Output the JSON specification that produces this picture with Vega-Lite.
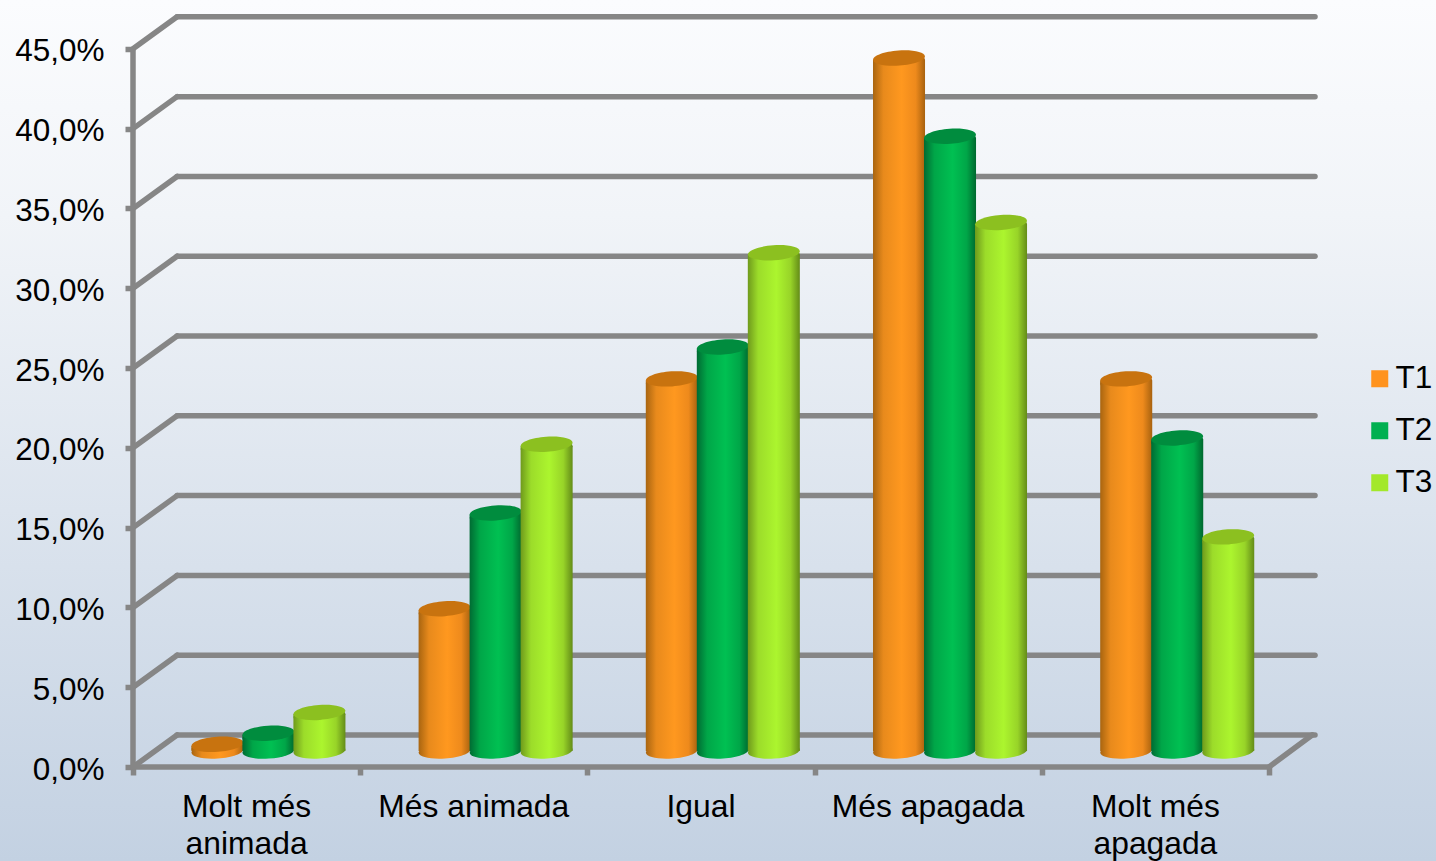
{"$schema":"https://vega.github.io/schema/vega-lite/v6.json","width":1436,"height":861,"padding":0,"autosize":{"type":"none"},"background":"#E4E9F1","view":{"stroke":null,"fill":{"gradient":"linear","x1":0,"y1":0,"x2":0,"y2":1,"stops":[{"offset":0,"color":"#FBFCFE"},{"offset":0.25,"color":"#F1F4F8"},{"offset":1,"color":"#C3D1E2"}]}},
"datasets":{"levels":[{"level":0},{"level":5},{"level":10},{"level":15},{"level":20},{"level":25},{"level":30},{"level":35},{"level":40},{"level":45}],
"cats":[{"label":"Molt més\nanimada","pos":0},{"label":"Més animada","pos":1},{"label":"Igual","pos":2},{"label":"Més apagada","pos":3},{"label":"Molt més\napagada","pos":4}],
"bars":[
{"category":"Molt més animada","pos":0,"series":"T1","value":0.5},{"category":"Més animada","pos":1,"series":"T1","value":9.0},{"category":"Igual","pos":2,"series":"T1","value":23.4},{"category":"Més apagada","pos":3,"series":"T1","value":43.5},{"category":"Molt més apagada","pos":4,"series":"T1","value":23.4},
{"category":"Molt més animada","pos":0,"series":"T2","value":1.2},{"category":"Més animada","pos":1,"series":"T2","value":15.0},{"category":"Igual","pos":2,"series":"T2","value":25.4},{"category":"Més apagada","pos":3,"series":"T2","value":38.6},{"category":"Molt més apagada","pos":4,"series":"T2","value":19.7},
{"category":"Molt més animada","pos":0,"series":"T3","value":2.5},{"category":"Més animada","pos":1,"series":"T3","value":19.3},{"category":"Igual","pos":2,"series":"T3","value":31.3},{"category":"Més apagada","pos":3,"series":"T3","value":33.2},{"category":"Molt més apagada","pos":4,"series":"T3","value":13.5}]},
"data":{"name":"bars"},
"transform":[{"calculate":"indexof(['T1','T2','T3'],datum.series)","as":"si"},{"calculate":"datum.pos+0.257+datum.si*0.2245","as":"x0"},{"calculate":"datum.x0+0.229","as":"x1"},{"calculate":"datum.x0+0.1145","as":"xc"},{"calculate":"datum.value+0.92","as":"top"},{"calculate":"datum.value+0.82","as":"bodyTop"},{"calculate":"datum.value+0.72","as":"under"},{"calculate":"1","as":"base"}],
"encoding":{},
"layer":[
{"data":{"name":"levels"},"transform":[{"calculate":"datum.level+2.005","as":"back"}],"mark":{"type":"rule","color":"#868686","strokeWidth":5.5,"strokeCap":"round"},"encoding":{"x":{"datum":0,"type":"quantitative","scale":{"domain":[-0.5854,5.735],"nice":false,"zero":false},"axis":{"values":[0,1,2,3,4,5],"orient":"bottom","offset":-94,"domain":false,"grid":false,"labels":false,"title":null,"tickSize":8,"tickWidth":5.5,"tickColor":"#868686"}},"x2":{"datum":0.194},"y":{"field":"level","type":"quantitative","scale":{"domain":[-5.89,48.06],"nice":false,"zero":false},"axis":{"values":[0,5,10,15,20,25,30,35,40,45],"orient":"left","offset":-133,"domain":false,"grid":false,"title":null,"tickSize":8,"tickWidth":5.5,"tickColor":"#868686","labelPadding":21,"labelOffset":3,"labelFont":"Liberation Sans","labelFontSize":31.5,"labelColor":"#000000","labelExpr":"replace(format(datum.value,'.1f'),'.',',')+'%'"}},"y2":{"field":"back"}}},
{"data":{"name":"levels"},"transform":[{"calculate":"datum.level+2.005","as":"back"}],"mark":{"type":"rule","color":"#868686","strokeWidth":5.5,"strokeCap":"round"},"encoding":{"x":{"datum":0.194,"type":"quantitative"},"x2":{"datum":5.2025},"y":{"field":"back","type":"quantitative"}}},
{"data":{"values":[{"a":0,"b":45}]},"mark":{"type":"rule","color":"#868686","strokeWidth":5.5},"encoding":{"x":{"datum":0,"type":"quantitative"},"y":{"field":"a","type":"quantitative"},"y2":{"field":"b"}}},
{"data":{"values":[{"a":0,"b":5}]},"mark":{"type":"rule","color":"#868686","strokeWidth":5.5,"strokeCap":"round"},"encoding":{"x":{"field":"a","type":"quantitative"},"x2":{"field":"b"},"y":{"datum":0,"type":"quantitative"}}},
{"data":{"values":[{"a":5,"b":5.19,"c":0,"d":2.005}]},"mark":{"type":"rule","color":"#868686","strokeWidth":5.5,"strokeCap":"round"},"encoding":{"x":{"field":"a","type":"quantitative"},"x2":{"field":"b"},"y":{"field":"c","type":"quantitative"},"y2":{"field":"d"}}},
{"data":{"name":"cats"},"transform":[{"calculate":"datum.pos+0.5","as":"mid"}],"mark":{"type":"text","font":"Liberation Sans","fontSize":31.8,"color":"#000000","align":"center","baseline":"middle","lineBreak":"\n","lineHeight":37},"encoding":{"x":{"field":"mid","type":"quantitative"},"y":{"datum":-2.52,"type":"quantitative"},"text":{"field":"label"}}},
{"mark":{"type":"point","filled":true,"size":4,"opacity":1,"shape":"square"},"encoding":{"x":{"field":"xc","type":"quantitative"},"y":{"field":"base","type":"quantitative"},"color":{"field":"series","type":"nominal","scale":{"domain":["T1","T2","T3"],"range":["#FF931E","#00B050","#A3E82A"]},"legend":{"title":null,"orient":"none","legendX":1364,"legendY":363,"symbolType":"square","symbolSize":289,"symbolOpacity":1,"symbolStrokeWidth":0,"labelFont":"Liberation Sans","labelFontSize":31.5,"labelColor":"#000000","labelOffset":0,"rowPadding":19,"padding":0}}}},

{"transform":[{"filter":"datum.series==='T1'"}],"mark":{"type":"point","filled":true,"opacity":1,"size":2704,"shape":"M-0.9976,0.0698A1,0.29,-4,1,1,0.9976,-0.0698A1,0.29,-4,1,1,-0.9976,0.0698Z","color":{"gradient":"linear","x1":0,"y1":0,"x2":1,"y2":0,"stops":[{"offset":0,"color":"#A96510"},{"offset":0.2,"color":"#E88A1C"},{"offset":0.55,"color":"#FF981F"},{"offset":0.82,"color":"#EE8A1C"},{"offset":1,"color":"#A8620F"}]}},"encoding":{"x":{"field":"xc","type":"quantitative"},"y":{"field":"base","type":"quantitative"}}},
{"transform":[{"filter":"datum.series==='T1'"}],"mark":{"type":"point","filled":true,"opacity":1,"size":2704,"shape":"M-0.9976,0.0698A1,0.29,-4,1,1,0.9976,-0.0698A1,0.29,-4,1,1,-0.9976,0.0698Z","color":{"gradient":"linear","x1":0,"y1":0,"x2":1,"y2":0,"stops":[{"offset":0,"color":"#A96510"},{"offset":0.2,"color":"#E88A1C"},{"offset":0.55,"color":"#FF981F"},{"offset":0.82,"color":"#EE8A1C"},{"offset":1,"color":"#A8620F"}]}},"encoding":{"x":{"field":"xc","type":"quantitative"},"y":{"field":"under","type":"quantitative"}}},
{"transform":[{"filter":"datum.series==='T1'"}],"mark":{"type":"rect","color":{"gradient":"linear","x1":0,"y1":0,"x2":1,"y2":0,"stops":[{"offset":0,"color":"#A96510"},{"offset":0.2,"color":"#E88A1C"},{"offset":0.55,"color":"#FF981F"},{"offset":0.82,"color":"#EE8A1C"},{"offset":1,"color":"#A8620F"}]}},"encoding":{"x":{"field":"x0","type":"quantitative"},"x2":{"field":"x1"},"y":{"field":"bodyTop","type":"quantitative"},"y2":{"field":"base"}}},
{"transform":[{"filter":"datum.series==='T1'"}],"mark":{"type":"point","filled":true,"opacity":1,"size":2704,"color":"#C8730F","shape":"M-0.9976,0.0698A1,0.29,-4,1,1,0.9976,-0.0698A1,0.29,-4,1,1,-0.9976,0.0698Z"},"encoding":{"x":{"field":"xc","type":"quantitative"},"y":{"field":"top","type":"quantitative"}}},

{"transform":[{"filter":"datum.series==='T2'"}],"mark":{"type":"point","filled":true,"opacity":1,"size":2704,"shape":"M-0.9976,0.0698A1,0.29,-4,1,1,0.9976,-0.0698A1,0.29,-4,1,1,-0.9976,0.0698Z","color":{"gradient":"linear","x1":0,"y1":0,"x2":1,"y2":0,"stops":[{"offset":0,"color":"#006B33"},{"offset":0.2,"color":"#00A648"},{"offset":0.55,"color":"#00C052"},{"offset":0.82,"color":"#00A648"},{"offset":1,"color":"#00692F"}]}},"encoding":{"x":{"field":"xc","type":"quantitative"},"y":{"field":"base","type":"quantitative"}}},
{"transform":[{"filter":"datum.series==='T2'"}],"mark":{"type":"point","filled":true,"opacity":1,"size":2704,"shape":"M-0.9976,0.0698A1,0.29,-4,1,1,0.9976,-0.0698A1,0.29,-4,1,1,-0.9976,0.0698Z","color":{"gradient":"linear","x1":0,"y1":0,"x2":1,"y2":0,"stops":[{"offset":0,"color":"#006B33"},{"offset":0.2,"color":"#00A648"},{"offset":0.55,"color":"#00C052"},{"offset":0.82,"color":"#00A648"},{"offset":1,"color":"#00692F"}]}},"encoding":{"x":{"field":"xc","type":"quantitative"},"y":{"field":"under","type":"quantitative"}}},
{"transform":[{"filter":"datum.series==='T2'"}],"mark":{"type":"rect","color":{"gradient":"linear","x1":0,"y1":0,"x2":1,"y2":0,"stops":[{"offset":0,"color":"#006B33"},{"offset":0.2,"color":"#00A648"},{"offset":0.55,"color":"#00C052"},{"offset":0.82,"color":"#00A648"},{"offset":1,"color":"#00692F"}]}},"encoding":{"x":{"field":"x0","type":"quantitative"},"x2":{"field":"x1"},"y":{"field":"bodyTop","type":"quantitative"},"y2":{"field":"base"}}},
{"transform":[{"filter":"datum.series==='T2'"}],"mark":{"type":"point","filled":true,"opacity":1,"size":2704,"color":"#008C3E","shape":"M-0.9976,0.0698A1,0.29,-4,1,1,0.9976,-0.0698A1,0.29,-4,1,1,-0.9976,0.0698Z"},"encoding":{"x":{"field":"xc","type":"quantitative"},"y":{"field":"top","type":"quantitative"}}},

{"transform":[{"filter":"datum.series==='T3'"}],"mark":{"type":"point","filled":true,"opacity":1,"size":2704,"shape":"M-0.9976,0.0698A1,0.29,-4,1,1,0.9976,-0.0698A1,0.29,-4,1,1,-0.9976,0.0698Z","color":{"gradient":"linear","x1":0,"y1":0,"x2":1,"y2":0,"stops":[{"offset":0,"color":"#6F9A1C"},{"offset":0.2,"color":"#9CDC2A"},{"offset":0.55,"color":"#ACF52E"},{"offset":0.82,"color":"#98D428"},{"offset":1,"color":"#648C18"}]}},"encoding":{"x":{"field":"xc","type":"quantitative"},"y":{"field":"base","type":"quantitative"}}},
{"transform":[{"filter":"datum.series==='T3'"}],"mark":{"type":"point","filled":true,"opacity":1,"size":2704,"shape":"M-0.9976,0.0698A1,0.29,-4,1,1,0.9976,-0.0698A1,0.29,-4,1,1,-0.9976,0.0698Z","color":{"gradient":"linear","x1":0,"y1":0,"x2":1,"y2":0,"stops":[{"offset":0,"color":"#6F9A1C"},{"offset":0.2,"color":"#9CDC2A"},{"offset":0.55,"color":"#ACF52E"},{"offset":0.82,"color":"#98D428"},{"offset":1,"color":"#648C18"}]}},"encoding":{"x":{"field":"xc","type":"quantitative"},"y":{"field":"under","type":"quantitative"}}},
{"transform":[{"filter":"datum.series==='T3'"}],"mark":{"type":"rect","color":{"gradient":"linear","x1":0,"y1":0,"x2":1,"y2":0,"stops":[{"offset":0,"color":"#6F9A1C"},{"offset":0.2,"color":"#9CDC2A"},{"offset":0.55,"color":"#ACF52E"},{"offset":0.82,"color":"#98D428"},{"offset":1,"color":"#648C18"}]}},"encoding":{"x":{"field":"x0","type":"quantitative"},"x2":{"field":"x1"},"y":{"field":"bodyTop","type":"quantitative"},"y2":{"field":"base"}}},
{"transform":[{"filter":"datum.series==='T3'"}],"mark":{"type":"point","filled":true,"opacity":1,"size":2704,"color":"#8CC020","shape":"M-0.9976,0.0698A1,0.29,-4,1,1,0.9976,-0.0698A1,0.29,-4,1,1,-0.9976,0.0698Z"},"encoding":{"x":{"field":"xc","type":"quantitative"},"y":{"field":"top","type":"quantitative"}}}
]}
